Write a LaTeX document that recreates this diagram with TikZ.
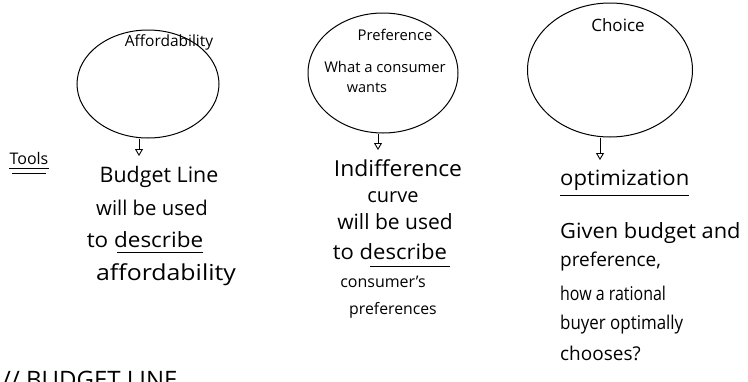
\documentclass[tikz,border=0pt]{standalone}
\usepackage{fontspec}
\setmainfont{Open Sans}
\usetikzlibrary{shapes.geometric,arrows.meta}
\begin{document}
\begin{tikzpicture}[x=1pt,y=-1pt,
  bubble/.style={draw, ellipse, line width=1pt, inner sep=0pt},
  arr/.style={-{Triangle[open,length=7pt,width=8pt]}, line width=0.9pt},
  fs/.style={font=\fontsize{#1}{#1}\selectfont, inner sep=0pt},
  rule/.style={line width=1pt},
]
\useasboundingbox (0,0) rectangle (748,381);
\clip (0,0) rectangle (748,381);

% column 1
\node[bubble, minimum width=142pt, minimum height=108pt] (e1) at (148,84) {};
\node[fs=15.5] (t1) at (169,42) {Affordability};
\coordinate (a1) at (139,156);
\draw[arr] (e1.south -| a1) -- (a1);
\node[fs=21.4] (b1) at (159,177) {Budget Line};
\node[fs=20.3] (b2) at (152,208) {will be used};
\node[fs=21, xscale=1.07] (b3) at (145,240) {to describe};
\node[fs=22, xscale=1.13] (b4) at (166,275) {affordability};
\draw[rule] ([yshift=-4pt]b3.south east) -- ++(-86,0);

\node[fs=16] (tools) at (29,158) {Tools};
\draw[rule] ([yshift=-4pt]tools.south west) -- ([yshift=-4pt]tools.south east);
\draw[rule] ([yshift=-9pt,xshift=3pt]tools.south west) -- ([yshift=-9pt,xshift=-3pt]tools.south east);

% column 2
\node[bubble, minimum width=150pt, minimum height=120pt] (e2) at (383,73) {};
\node[fs=14.8] (p1) at (395,35) {Preference};
\node[fs=14.8] (p2) at (385,67) {What a consumer};
\node[fs=14.5] (p3) at (367,88) {wants};
\coordinate (a2) at (378,150);
\draw[arr] (e2.south -| a2) -- (a2);
\node[fs=22, xscale=1.04] (i1) at (398,168) {Indifference};
\node[fs=20] (i2) at (393,197) {curve};
\node[fs=21] (i3) at (395,222) {will be used};
\node[fs=21, xscale=1.05] (i4) at (390,252) {to describe};
\draw[rule] ([yshift=-6pt,xshift=3pt]i4.south east) -- ++(-80,0);
\node[fs=16] (i5) at (383,282) {consumer's};
\node[fs=15.8] (i6) at (393,310) {preferences};

% column 3
\node[bubble, minimum width=165pt, minimum height=134pt] (e3) at (610,70) {};
\node[fs=17] (c1) at (618,25) {Choice};
\coordinate (a3) at (600,160);
\draw[arr] (e3.south -| a3) -- (a3);
\node[fs=21, xscale=1.05, anchor=west] (o1) at (560,180) {optimization};
\draw[rule] ([yshift=-5pt]o1.south west) -- ([yshift=-5pt]o1.south east);
\node[fs=21, xscale=1.04, anchor=west] (g1) at (560,233) {Given budget and};
\node[fs=19, anchor=west] (g2) at (560,262) {preference,};
\node[fs=19, xscale=0.84, anchor=west] (g3) at (560,293) {how a rational};
\node[fs=19, xscale=0.89, anchor=west] (g4) at (560,325) {buyer optimally};
\node[fs=19, anchor=west] (g5) at (560,353) {chooses?};

% cut-off text at the bottom edge
\node[fs=24, anchor=base west] (cut) at (2,388) {// BUDGET LINE};
\end{tikzpicture}
\end{document}
